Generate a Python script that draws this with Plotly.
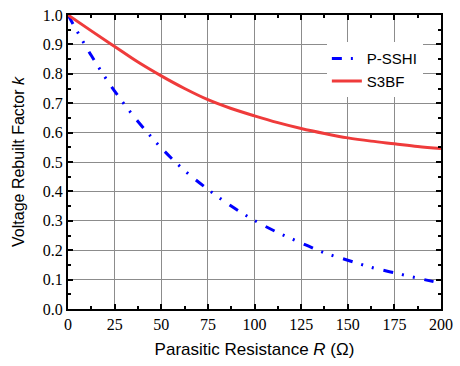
import plotly.graph_objects as go

# S3BF curve
r_s3bf = [0, 12.5, 25, 37.5, 50, 62.5, 75, 87.5, 100, 112.5, 125, 137.5, 150, 162.5, 175, 187.5, 200]
k_s3bf = [1.0, 0.946, 0.893, 0.840, 0.793, 0.750, 0.712, 0.682, 0.657, 0.634, 0.614, 0.597, 0.582, 0.571, 0.562, 0.553, 0.546]

# P-SSHI curve
r_psshi = [0, 12.5, 25, 37.5, 50, 62.5, 75, 87.5, 100, 112.5, 125, 137.5, 150, 162.5, 175, 187.5, 196]
k_psshi = [1.0, 0.862, 0.741, 0.638, 0.548, 0.471, 0.407, 0.350, 0.301, 0.260, 0.225, 0.191, 0.166, 0.142, 0.123, 0.105, 0.093]

x_ticks = [0, 25, 50, 75, 100, 125, 150, 175, 200]
y_ticks = [0.0, 0.1, 0.2, 0.3, 0.4, 0.5, 0.6, 0.7, 0.8, 0.9, 1.0]

fig = go.Figure()
fig.add_trace(go.Scatter(
    x=r_psshi, y=k_psshi, mode="lines", name="P-SSHI",
    line=dict(color="#0000FF", width=3, dash="10px,9px,2px,9px,2px,10px", shape="spline"),
))
fig.add_trace(go.Scatter(
    x=r_s3bf, y=k_s3bf, mode="lines", name="S3BF",
    line=dict(color="#EF3B3B", width=3, shape="spline"),
))

tickfont = dict(family="Liberation Serif, Times New Roman, serif", size=16, color="black")
titlefont = dict(family="Liberation Sans, Arial, sans-serif", size=17, color="black")

axis_common = dict(
    showline=True, linecolor="black", linewidth=2, mirror="ticks",
    ticks="inside", ticklen=5, tickwidth=1.5, tickcolor="black",
    showgrid=True, gridcolor="#8c8c8c", gridwidth=1,
    zeroline=False, tickfont=tickfont,
)

fig.update_xaxes(
    range=[0, 200], tickvals=x_ticks, ticktext=[str(v) for v in x_ticks],
    minor=dict(ticks="inside", ticklen=3, tickwidth=1.5, tickcolor="black", dtick=12.5, tick0=0, showgrid=False),
    title=dict(text="Parasitic Resistance <i>R</i> (Ω)", font=titlefont, standoff=11),
    **axis_common,
)
fig.update_yaxes(
    range=[0, 1.0], tickvals=y_ticks, ticktext=[f"{v:.1f}" for v in y_ticks],
    minor=dict(ticks="inside", ticklen=3, tickwidth=1.5, tickcolor="black", dtick=0.05, tick0=0, showgrid=False),
    title=dict(text="Voltage Rebuilt Factor <i>k</i>", font=dict(family="Liberation Sans, Arial, sans-serif", size=16, color="black"), standoff=14),
    **axis_common,
)

fig.update_layout(
    width=460, height=366, autosize=False,
    margin=dict(l=68, r=14, t=7, b=57),
    paper_bgcolor="white", plot_bgcolor="white",
    legend=dict(
        x=0.694, y=0.907, xanchor="left", yanchor="top",
        bgcolor="white", borderwidth=0,
        font=dict(family="Liberation Sans, Arial, sans-serif", size=15, color="black"),
        tracegroupgap=0,
    ),
)

fig.write_html("out.html")
